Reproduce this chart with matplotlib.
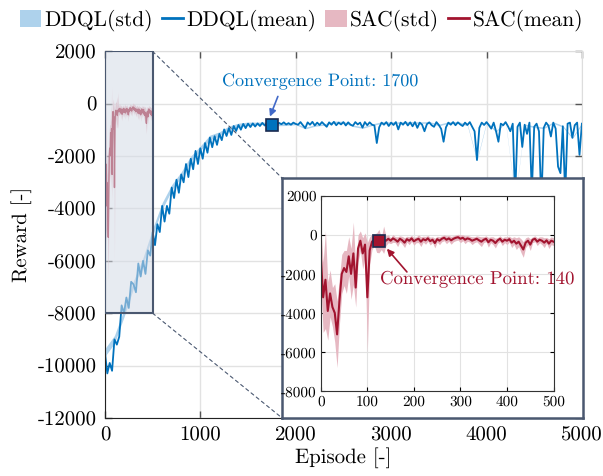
import numpy as np
import matplotlib
import matplotlib.pyplot as plt
from matplotlib.patches import Rectangle, Patch, ConnectionPatch
from matplotlib.lines import Line2D

matplotlib.use("Agg")

plt.rcParams["font.family"] = ["cmr10", "DejaVu Serif"]
plt.rcParams["axes.unicode_minus"] = False
plt.rcParams["axes.formatter.use_mathtext"] = False
plt.rcParams["text.hinting"] = "no_hinting"

# ---- data ----
ddql_ep = np.arange(0, 5001, 25)
ddql_mean = [
    # 0 - 1000
    -9500, -10300, -9900, -10200, -9000, -9200, -8900, -7700, -8000, -7400,
    -7800, -6800, -6900, -7200, -6100, -6600, -6000, -6500, -5600, -5800,
    -4900, -5400, -4600, -4900, -3900, -4500, -3900, -4200, -3200, -3600,
    -2900, -3400, -2700, -3000, -2300, -2800, -2100, -2500, -1800, -2300,
    -1700,
    # 1025 - 2000
    -2100, -1500, -1870, -1290, -1660, -1240, -1570, -1150, -1390, -980,
    -1230, -930, -1190, -850, -1040, -810, -990, -770, -930, -760,
    -890, -750, -870, -750, -850, -730, -830, -735, -815, -770,
    -720, -800, -730, -780, -710, -790, -740, -800, -720, -770,
    # 2025 - 3000
    -800, -700, -820, -930, -710, -800, -690, -830, -720, -810,
    -700, -790, -880, -710, -800, -690, -820, -720, -790, -700,
    -830, -710, -800, -840, -700, -790, -720, -910, -700, -820,
    -710, -800, -830, -1500, -900, -720, -800, -700, -850, -720,
    # 3025 - 4000
    -810, -700, -980, -720, -800, -690, -830, -710, -860, -700,
    -920, -720, -800, -1050, -780, -710, -820, -880, -700, -810,
    -960, -1450, -900, -720, -800, -700, -820, -710, -790, -850,
    -720, -810, -700, -880, -1050, -2150, -920, -720, -810, -700,
    # 4025 - 5000
    -820, -950, -720, -1050, -1450, -760, -820, -700, -860, -1050,
    -760, -3600, -880, -720, -1650, -800, -1150, -720, -3400, -880,
    -760, -1050, -3800, -920, -720, -840, -1250, -720, -950, -2400,
    -2650, -860, -3500, -760, -720, -1300, -820, -720, -1950, -760,
]
ddql_std_ep = np.arange(0, 5001, 100)
ddql_std = [
    150, 150, 140, 140, 130, 130, 120, 110, 100, 100,
    90, 90, 80, 80, 70, 60, 50, 40, 40, 40,
    30, 30, 30, 30, 30, 30, 30, 30, 30, 30,
    30, 30, 30, 30, 30, 30, 30, 30, 30, 30,
    30, 30, 30, 30, 30, 30, 30, 30, 30, 30,
    30,
]

sac_ep = np.arange(0, 501, 5)
sac_mean = [
    -1100, -3200, -2300, -3900, -3000, -3700, -4000, -5100, -3400, -2000,
    -1700, -1900, -1100, -2000, -950, -2700, -700, -300, -950, -500,
    -3200, -800, -350, -250, -400, -320, -450, -250, -300, -200,
    -300, -180, -250, -350, -200, -280, -400, -220, -300, -180,
    -330, -250, -200, -350, -220, -280, -180, -320, -250, -420,
    -220, -300, -200, -150, -250, -180, -280, -200, -150, -120,
    -200, -150, -250, -180, -220, -300, -250, -200, -280, -350,
    -250, -200, -380, -250, -300, -420, -280, -200, -350, -250,
    -300, -220, -400, -300, -450, -350, -550, -750, -400, -300,
    -500, -250, -200, -350, -250, -300, -400, -280, -450, -300,
    -350,
]
sac_std = [
    1500, 1800, 2500, 1500, 1200, 1000, 1500, 1700, 1200, 1000,
    900, 1100, 1000, 1300, 1600, 1000, 700, 500, 800, 600,
    2800, 700, 400, 300, 500, 600, 300, 700, 250, 200,
    150, 200, 150, 250, 150, 200, 250, 150, 200, 150,
    200, 150, 200, 250, 150, 200, 150, 200, 150, 250,
    150, 200, 150, 150, 200, 150, 200, 150, 150, 150,
    200, 150, 200, 150, 150, 200, 150, 150, 200, 250,
    150, 150, 250, 150, 200, 250, 150, 150, 200, 150,
    200, 150, 250, 200, 300, 250, 350, 400, 250, 200,
    300, 150, 150, 200, 150, 200, 250, 150, 250, 200,
    200,
]

ddql_conv = (1750, -800)
sac_conv = (125, -320)

blue = "#0072BD"
blue_std = "#aed2ec"
red = "#A2142F"
red_std = "#e6b8c2"
frame = "#4a5870"

ddql_mean = np.array(ddql_mean)
sac_mean = np.array(sac_mean)
sac_std = np.array(sac_std)
ddql_std = np.array(ddql_std)

fig = plt.figure(figsize=(6.03, 4.76), dpi=100)
ax = fig.add_axes([0.174, 0.122, 0.791, 0.770])

# main plot
ax.fill_between(ddql_std_ep, ddql_mean[::4] - ddql_std, ddql_mean[::4] + ddql_std,
                color=blue_std, lw=0)
ax.plot(ddql_ep, ddql_mean, color=blue, lw=1.3)
ax.fill_between(sac_ep, sac_mean - sac_std, sac_mean + sac_std, color=red_std, lw=0)
ax.plot(sac_ep, sac_mean, color=red, lw=1.0)

ax.add_patch(Rectangle((0, -8000), 500, 10000, facecolor="#d5dbe6", alpha=0.55,
                       edgecolor="none", zorder=3))
ax.add_patch(Rectangle((0, -8000), 500, 10000, facecolor="none",
                       edgecolor=frame, lw=1.5, zorder=4))

ax.plot(*ddql_conv, marker="s", ms=8.5, mfc=blue, mec="#1a2a50", mew=1.2, zorder=6)
ax.text(1226, 850, "Convergence Point: 1700", color=blue, fontsize=13,
        ha="left", va="center", zorder=6)
ax.annotate("", xy=(1730, -490), xytext=(1813, 280),
            arrowprops=dict(arrowstyle="-|>", color="#4169c8", lw=1.2,
                            mutation_scale=10, shrinkA=0, shrinkB=0), zorder=6)

ax.set_xlim(0, 5000)
ax.set_ylim(-12000, 2000)
ax.set_xticks(np.arange(0, 5001, 1000))
ax.set_yticks(np.arange(-12000, 2001, 2000))
ax.grid(True, color="#e2e2e2", lw=1.0)
ax.set_axisbelow(True)
ax.tick_params(direction="in", top=True, right=True, labelsize=15, length=5,
               width=1.0, color="#555555", pad=6)
for s in ["top", "right"]:
    ax.spines[s].set_color("#dddddd")
for s in ["left", "bottom"]:
    ax.spines[s].set_color("#222222")
ax.set_xlabel("Episode [-]", fontsize=15, labelpad=2)
ax.set_ylabel("Reward [-]", fontsize=15, labelpad=4)

# inset frame + inset axes
box = fig.add_axes([0.4677, 0.122, 0.499, 0.504])
box.set_xticks([])
box.set_yticks([])
box.set_facecolor("white")
for s in box.spines.values():
    s.set_color(frame)
    s.set_linewidth(1.8)

for xy_b in [(0, 1), (0, 0)]:
    xy_a = (500, 2000) if xy_b[1] == 1 else (500, -8000)
    con = ConnectionPatch(xyA=xy_a, coordsA=ax.transData, xyB=xy_b,
                          coordsB=box.transAxes, color=frame, lw=0.8,
                          linestyle=(0, (3, 3)), zorder=2)
    ax.add_artist(con)

ins = fig.add_axes([0.532, 0.1786, 0.386, 0.410])
ins.fill_between(sac_ep, sac_mean - sac_std, sac_mean + sac_std, color=red_std, lw=0)
ins.plot(sac_ep, sac_mean, color=red, lw=1.5)
ins.plot(*sac_conv, marker="s", ms=8.5, mfc=red, mec="#1a2a50", mew=1.2, zorder=6)
ins.text(127, -2310, "Convergence Point: 140", color=red, fontsize=13.5,
         ha="left", va="center", zorder=6)
ins.annotate("", xy=(142, -710), xytext=(185, -1900),
             arrowprops=dict(arrowstyle="-|>", color=red, lw=1.2,
                             mutation_scale=10, shrinkA=0, shrinkB=0), zorder=6)
ins.set_xlim(0, 500)
ins.set_ylim(-8000, 2000)
ins.set_xticks(np.arange(0, 501, 100))
ins.set_yticks(np.arange(-8000, 2001, 2000))
ins.grid(True, color="#e2e2e2", lw=0.8)
ins.set_axisbelow(True)
ins.tick_params(direction="in", top=True, right=True, labelsize=11, length=3,
                pad=3)
for s in ins.spines.values():
    s.set_color("#333333")
    s.set_linewidth(0.8)

# legend
handles = [
    Patch(facecolor=blue_std, edgecolor="none"),
    Line2D([], [], color=blue, lw=2),
    Patch(facecolor=red_std, edgecolor="none"),
    Line2D([], [], color=red, lw=2),
]
labels = ["DDQL(std)", "DDQL(mean)", "SAC(std)", "SAC(mean)"]
fig.legend(handles, labels, loc="upper center", bbox_to_anchor=(0.5, 1.02),
           ncol=4, frameon=False, fontsize=15.5, handlelength=1.0,
           handleheight=0.85, handletextpad=0.15, columnspacing=0.4)

fig.savefig("out.png", dpi=100)
